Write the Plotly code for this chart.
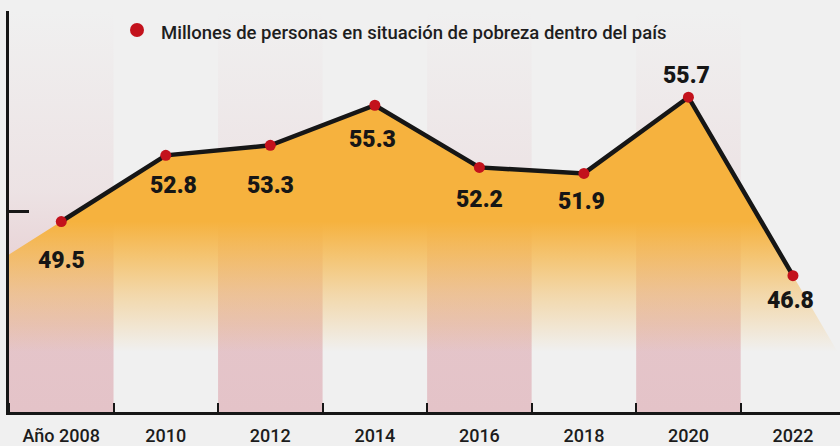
import plotly.graph_objects as go

# ---- data ----
years = [2008, 2010, 2012, 2014, 2016, 2018, 2020, 2022]
values = [49.5, 52.8, 53.3, 55.3, 52.2, 51.9, 55.7, 46.8]
tick_labels = ["Año 2008", "2010", "2012", "2014", "2016", "2018", "2020", "2022"]
series_name = "Millones de personas en situación de pobreza dentro del país"
band_years = [2008, 2012, 2016, 2020]

# ---- style ----
BG = "#f0f0f0"
ORANGE = "246,178,62"
PINK = "228,195,200"
INK = "#161616"
RED = "#c3121c"
label_yshift = [-39, -30, -40, -34, -32, -28, 22, -25]
label_xshift = [0, 8, 0, -2, 0, -2, -2, -2]
Y0, Y1 = 40, 60
X0, X1 = years[0] - 1, years[-1] + 0.9

fig = go.Figure()

# pink background bands (vertical gradient)
for by in band_years:
    fig.add_trace(go.Scatter(
        x=[by - 1, by + 1, by + 1, by - 1, by - 1],
        y=[Y0, Y0, Y1, Y1, Y0],
        mode="lines", line=dict(width=0), fill="toself",
        fillgradient=dict(type="vertical", start=Y0, stop=Y1,
                          colorscale=[[0, f"rgba({PINK},1)"], [0.22, f"rgba({PINK},0.95)"],
                                      [0.55, f"rgba({PINK},0.3)"], [1, f"rgba({PINK},0.0)"]]),
        hoverinfo="skip", showlegend=False))

# area fill, extended half a column beyond the ends by linear extrapolation
left_v = values[0] - (values[1] - values[0]) / 2
right_v = values[-1] + (values[-1] - values[-2]) / 2
fx = [years[0] - 1] + years + [years[-1] + 1]
fy = [left_v] + values + [right_v]
fig.add_trace(go.Scatter(
    x=fx, y=fy, mode="lines", line=dict(width=0), fill="tozeroy",
    fillgradient=dict(type="vertical", start=43, stop=49.5,
                      colorscale=[[0, f"rgba({ORANGE},0)"], [0.45, f"rgba({ORANGE},0.4)"],
                                  [1, f"rgba({ORANGE},1)"]]),
    hoverinfo="skip", showlegend=False))

# line + markers
fig.add_trace(go.Scatter(
    x=years, y=values, mode="lines+markers",
    line=dict(color=INK, width=4.5),
    marker=dict(color=RED, size=11, line=dict(width=0)),
    name=series_name, showlegend=False))

# value labels
for x, v, dy, dx in zip(years, values, label_yshift, label_xshift):
    fig.add_annotation(x=x, y=v, text=f"{v}", showarrow=False,
                       xshift=dx, yshift=dy, yanchor="middle",
                       font=dict(family="Roboto", size=23, color=INK, weight=900))

# legend-like header
W, H = 840, 446
ML, MR, MT, MB = 9, 0, 11, 34
pw, ph = W - ML - MR, H - MT - MB
def px(xp):
    return (xp - ML) / pw
def py(yp):
    return (H - MB - yp) / ph
fig.add_shape(type="circle", xref="paper", yref="paper",
              x0=px(130), x1=px(144), y0=py(37), y1=py(23),
              fillcolor=RED, line=dict(width=0))
fig.add_annotation(xref="paper", yref="paper", x=px(159), y=py(33),
                   xanchor="left", yanchor="middle", showarrow=False,
                   text=series_name,
                   font=dict(family="Roboto", size=18.5, color="#1e1e1e", weight=500))

fig.update_layout(
    width=W, height=H,
    margin=dict(l=ML, r=MR, t=MT, b=MB, autoexpand=False),
    paper_bgcolor=BG, plot_bgcolor=BG,
    xaxis=dict(range=[X0, X1], showgrid=False, zeroline=False, automargin=False,
               showline=True, linecolor=INK, linewidth=2.5,
               tickmode="array", tickvals=years, ticktext=tick_labels,
               ticks="", ticklabelstandoff=6,
               tickfont=dict(family="Roboto", size=18, color="#1c1c1c", weight=500),
               minor=dict(tick0=years[0] + 1, dtick=2, ticks="inside",
                          ticklen=9, tickwidth=2, tickcolor=INK, showgrid=False)),
    yaxis=dict(range=[Y0, Y1], showgrid=False, zeroline=False, automargin=False,
               showline=True, linecolor=INK, linewidth=2.5,
               tickmode="array", tickvals=[50, 60], ticks="inside",
               ticklen=20, tickwidth=2.5, tickcolor=INK,
               showticklabels=False),
)

fig.write_html(
    "out.html",
    config={"displayModeBar": False},
    post_script="document.body.style.margin='0';document.body.style.background='#f0f0f0';",
)
